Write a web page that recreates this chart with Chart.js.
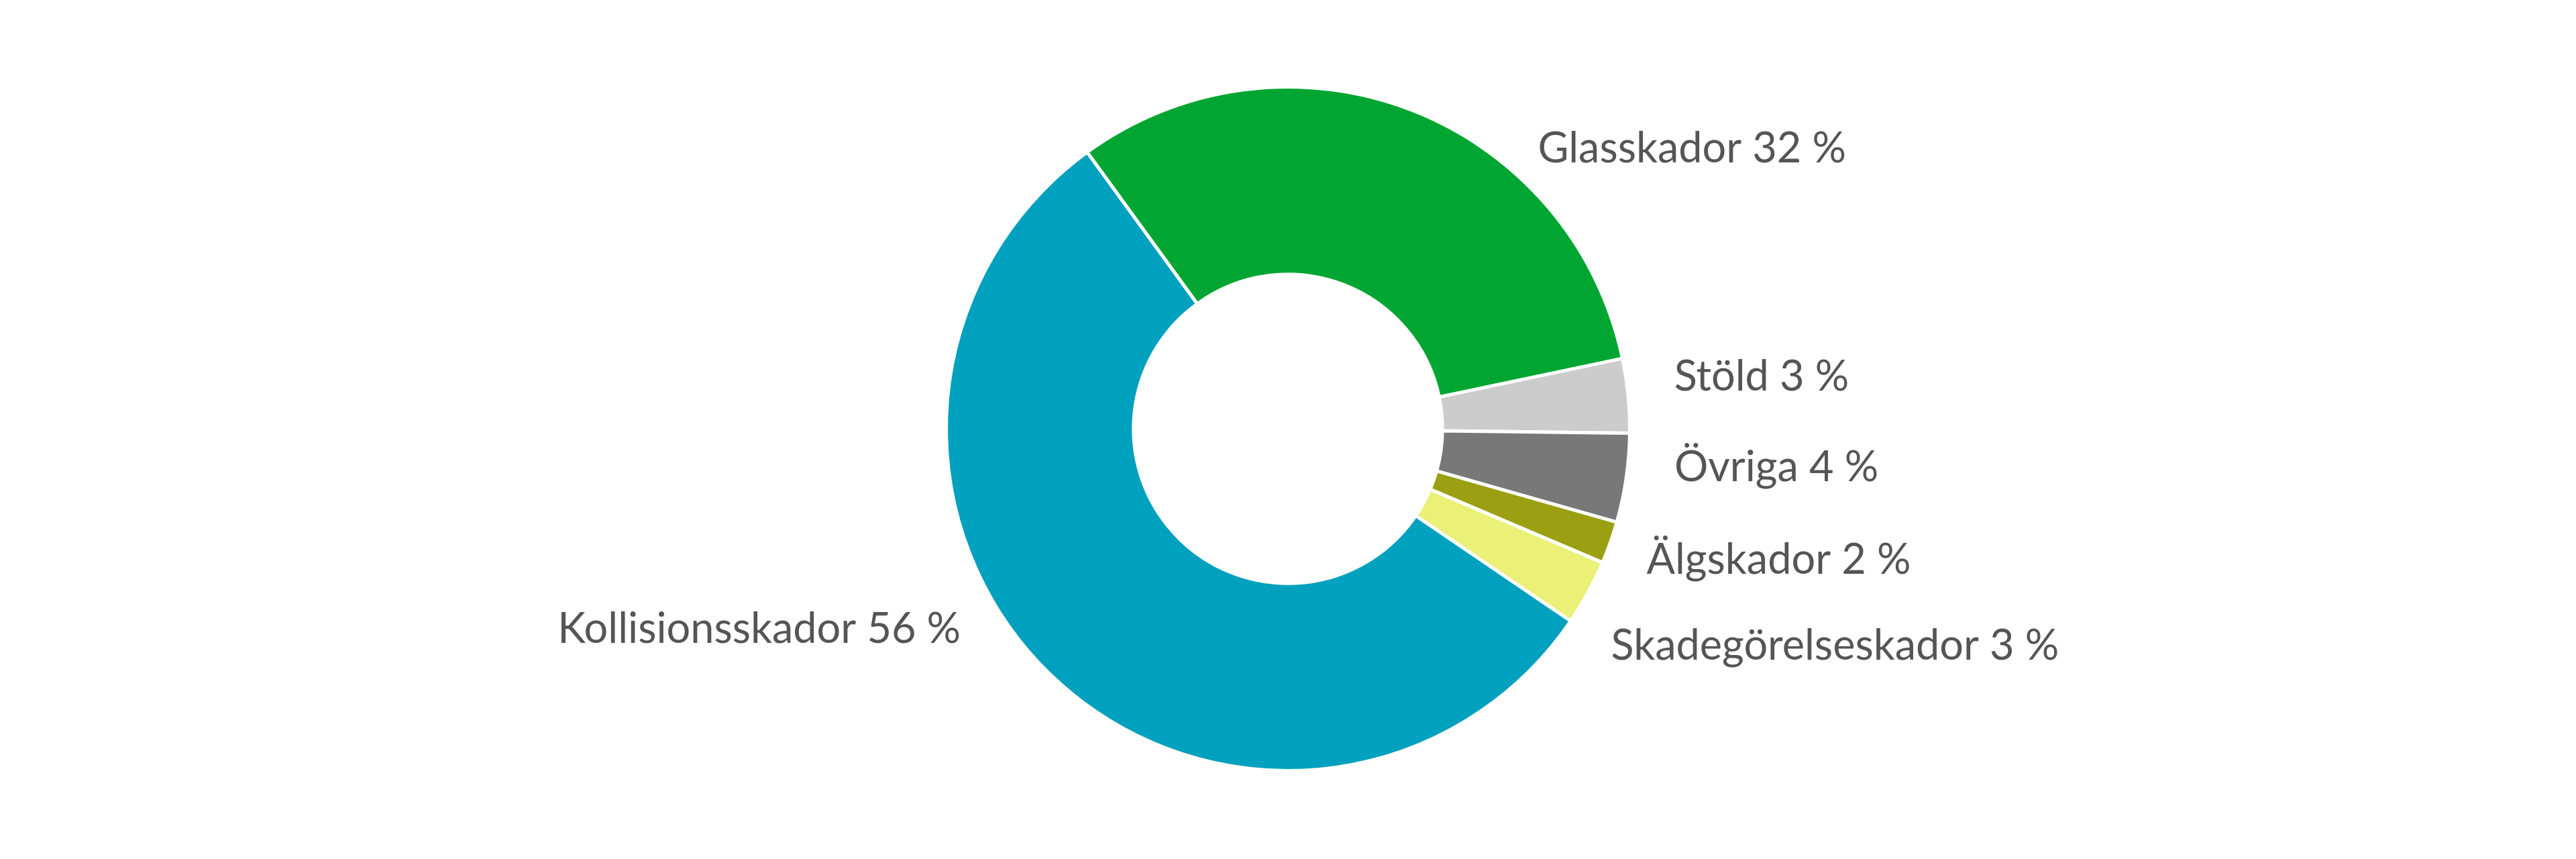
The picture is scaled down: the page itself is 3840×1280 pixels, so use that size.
<!DOCTYPE html>
<html>
<head>
<meta charset="utf-8">
<script src="https://cdn.jsdelivr.net/npm/chart.js@4"></script>
<style>
  html, body { margin: 0; padding: 0; background: #ffffff; }
  #wrap { width: 3840px; height: 1280px; position: relative; }
</style>
</head>
<body>
<div id="wrap"><canvas id="c" width="3840" height="1280"></canvas></div>
<script>
// ---- data ----
const categories = ['Glasskador', 'Stöld', 'Övriga', 'Älgskador', 'Skadegörelseskador', 'Kollisionsskador'];
const shares = [31.7, 3.5, 4.2, 2.0, 3.1, 55.5];
const shareLabels = ['32 %', '3 %', '4 %', '2 %', '3 %', '56 %'];

// ---- style / layout ----
const colors = ['#00A631', '#CCCCCC', '#787878', '#9AA012', '#EBF076', '#00A1BE'];
const labelBaselineY = [242, 582, 717, 855, 983, 958];
const labelGap = [87, 75, 72, 66, 90, 77];
const labelFont = 'normal 63px Lato, "Open Sans", sans-serif';
const labelColor = '#555555';

const labelPlugin = {
  id: 'sideLabels',
  afterDraw(chart) {
    const ctx = chart.ctx;
    const meta = chart.getDatasetMeta(0);
    ctx.save();
    ctx.font = labelFont;
    ctx.fillStyle = labelColor;
    ctx.textBaseline = 'alphabetic';
    meta.data.forEach((arc, i) => {
      const p = arc.getProps(['x', 'y', 'startAngle', 'endAngle', 'outerRadius'], true);
      const R = p.outerRadius - chart.data.datasets[0].borderWidth / 2;
      const mid = (p.startAngle + p.endAngle) / 2;
      const right = Math.cos(mid) >= 0;
      const y = labelBaselineY[i];
      const capMid = y - 22;
      const dy = capMid - p.y;
      const half = Math.sqrt(Math.max(R * R - dy * dy, 0));
      const text = categories[i] + ' ' + shareLabels[i];
      if (right) {
        ctx.textAlign = 'left';
        ctx.fillText(text, p.x + half + labelGap[i], y);
      } else {
        ctx.textAlign = 'right';
        ctx.fillText(text, p.x - half - labelGap[i], y);
      }
    });
    ctx.restore();
  }
};

new Chart(document.getElementById('c'), {
  type: 'doughnut',
  data: {
    labels: categories,
    datasets: [{
      data: shares,
      backgroundColor: colors,
      borderColor: '#ffffff',
      borderWidth: 5,
      hoverOffset: 0
    }]
  },
  options: {
    responsive: false,
    animation: false,
    rotation: -36,
    cutout: '45.2%',
    layout: { padding: { top: 127, bottom: 129, left: 0, right: 0 } },
    plugins: {
      legend: { display: false },
      tooltip: { enabled: false }
    },
    events: []
  },
  plugins: [labelPlugin]
});
</script>
</body>
</html>
